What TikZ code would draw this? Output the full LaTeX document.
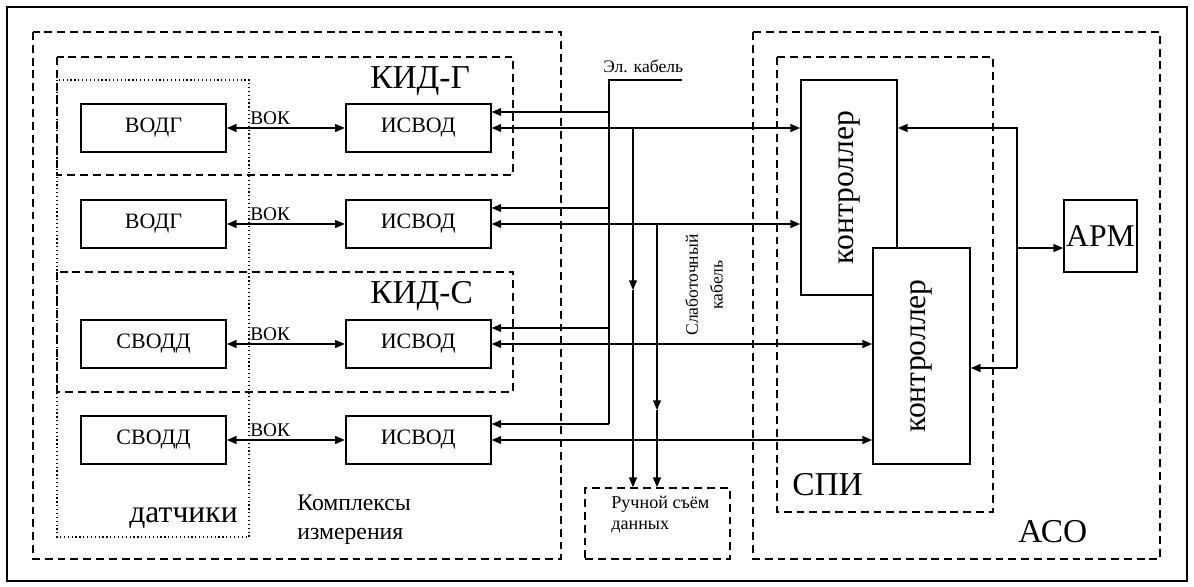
\documentclass[tikz,border=0pt]{standalone}
\usepackage{fontspec}
\setmainfont{Liberation Serif}
\usetikzlibrary{arrows.meta,positioning}

\begin{document}
\begin{tikzpicture}[x=0.02cm, y=-0.02cm,
    box/.style={draw,line width=1pt,fill=white,minimum width=2.9cm,minimum height=0.96cm,inner sep=0pt,font=\fontsize{12.5}{14}\selectfont},
    group/.style={draw,line width=1pt,dash pattern=on 4.5pt off 2.8pt},
    arr/.style={-{Triangle[length=5.5pt,width=4.5pt]},line width=0.8pt},
    dblarr/.style={{Triangle[length=5.5pt,width=4.5pt]}-{Triangle[length=5.5pt,width=4.5pt]},line width=0.8pt},
    big/.style={inner sep=0pt,font=\fontsize{19}{22}\selectfont},
    small/.style={inner sep=0pt,font=\fontsize{10}{12}\selectfont}]
    \useasboundingbox (0,0) rectangle (1194,586);
    \draw[line width=1.1pt] (7,7) rectangle (1187,581);

    % dashed groups
    \draw[group] (33,32) rectangle (561,559);
    \draw[group] (57,57) rectangle (513,175);
    \draw[group] (57,272) rectangle (513,392);
    \draw[line width=0.7pt,dash pattern=on 0.7pt off 1.5pt] (57,80) rectangle (249,537);
    \draw[group] (753,32) rectangle (1160,559);
    \draw[group] (777,57) rectangle (993,512);

    % sensors and converters
    \node[box] (vodg1) at (153.5,128) {ВОДГ};
    \node[box] (vodg2) at (153.5,224) {ВОДГ};
    \node[box] (svodd1) at (153.5,344) {СВОДД};
    \node[box] (svodd2) at (153.5,440) {СВОДД};
    \node[box,right=2.36cm of vodg1] (isvod1) {ИСВОД};
    \node[box,right=2.36cm of vodg2] (isvod2) {ИСВОД};
    \node[box,right=2.36cm of svodd1] (isvod3) {ИСВОД};
    \node[box,right=2.36cm of svodd2] (isvod4) {ИСВОД};
    \draw[dblarr] (vodg1) -- (isvod1);
    \draw[dblarr] (vodg2) -- (isvod2);
    \draw[dblarr] (svodd1) -- (isvod3);
    \draw[dblarr] (svodd2) -- (isvod4);
    \foreach \i/\y in {1/124,2/220,3/340,4/436}
        \node[inner sep=0pt,font=\fontsize{11}{13}\selectfont,anchor=base west] (vok\i) at (250,\y) {ВОК};

    % controllers
    \node[box,minimum width=1.92cm,minimum height=4.3cm,font=\fontsize{18}{20}\selectfont] (ctrl1) at (849,187.5) {\rotatebox{90}{контроллер}};
    \node[box,minimum width=1.94cm,minimum height=4.32cm,font=\fontsize{18}{20}\selectfont] (ctrl2) at (921.5,356) {\rotatebox{90}{контроллер}};
    \node[box,minimum width=1.46cm,minimum height=1.44cm,font=\fontsize{18}{20}\selectfont] (arm) at (1100.5,236) {АРМ};
    \node[group,minimum width=2.9cm,minimum height=1.42cm,inner sep=0pt] (manual) at (657.5,523.5) {};
    \node[anchor=north west,align=left,inner sep=0pt,font=\fontsize{10.3}{12}\selectfont] (manualtxt) at (611,496) {Ручной съём\\данных};

    \draw[dblarr] (isvod1.east) -- (isvod1.east -| ctrl1.west);
    \draw[dblarr] (isvod2.east) -- (isvod2.east -| ctrl1.west);
    \draw[dblarr] (isvod3.east) -- (isvod3.east -| ctrl2.west);
    \draw[dblarr] (isvod4.east) -- (isvod4.east -| ctrl2.west);

    % power cable
    \coordinate (elend) at (682,80);
    \coordinate (elbus) at (609,80);
    \foreach \i in {1,...,4}
        \coordinate (in\i) at ([yshift=0.32cm]isvod\i.east);
    \draw[line width=0.9pt] (elend) -- (elbus) -- (elbus |- in4);
    \foreach \i in {1,...,4}
        \draw[arr] (elbus |- in\i) -- (in\i);
    \node[small,anchor=base west] (ellabel) at (603,72) {Эл. кабель};

    % manual readout
    \coordinate (tap1) at (633,128);
    \coordinate (mid1) at (633,290);
    \coordinate (tap2) at (657,224);
    \coordinate (mid2) at (657,410);
    \draw[arr] (tap1) -- (mid1);
    \draw[arr] (mid1) -- (mid1 |- manual.north);
    \draw[arr] (tap2) -- (mid2);
    \draw[arr] (mid2) -- (mid2 |- manual.north);
    \node[small,rotate=90,align=center,font=\fontsize{10}{14}\selectfont] (slabo) at (704,285) {Слаботочный\\кабель};

    % workstation
    \coordinate (armtop) at (1017,128);
    \coordinate (armmid) at (1017,248);
    \coordinate (armbot) at (1017,368);
    \draw[arr] (armbot) -- (armtop) -- (armtop -| ctrl1.east);
    \draw[arr] (armbot) -- (armbot -| ctrl2.east);
    \draw[arr] (armmid) -- (armmid -| arm.west);

    % labels
    \node[big,anchor=base west] (kidg) at (370,88) {КИД-Г};
    \node[big,anchor=base west] (kids) at (370,303) {КИД-С};
    \node[inner sep=0pt,font=\fontsize{18}{20}\selectfont,anchor=base east] (sensors) at (238,522) {датчики};
    \node[anchor=north west,align=left,inner sep=0pt,font=\fontsize{13.5}{16}\selectfont] (complex) at (297,495) {Комплексы\\измерения};
    \node[big,anchor=base west] (spi) at (792,495) {СПИ};
    \node[big,anchor=base west] (aso) at (1018,542) {АСО};
\end{tikzpicture}
\end{document}
